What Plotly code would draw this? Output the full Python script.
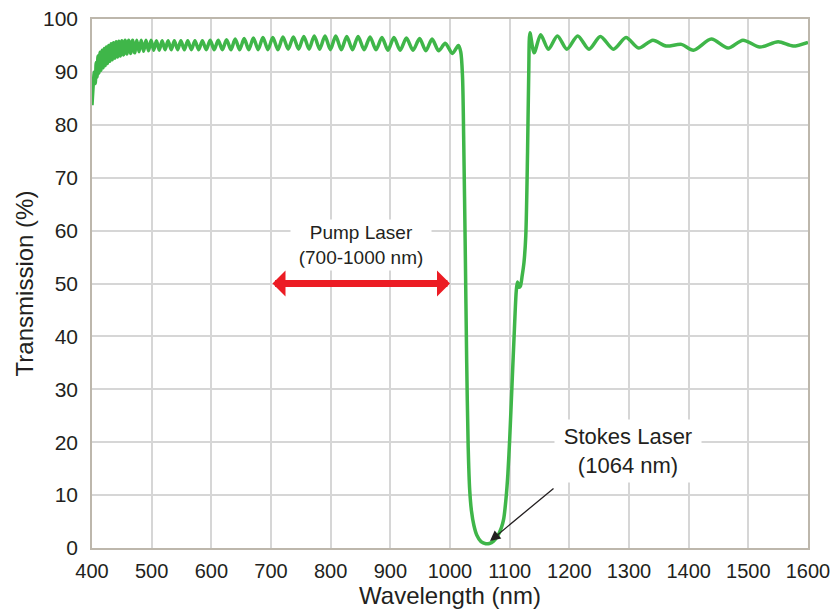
import plotly.graph_objects as go

# Transmission spectrum of the dichroic filter (fringe peaks/valleys traced per region)
wl_blue_edge = [400, 404, 405.5, 407, 408.5, 410, 411.8, 413.5, 415.2, 417, 418.8, 420.5, 422.2,
                424, 426, 428, 430, 432, 434, 436, 438.2, 440.5, 442.8, 445, 447.5, 450, 452.8,
                455.5, 458.5, 461.5, 464.8, 468, 471.5, 475, 478.8, 482.5, 486.5, 490.5, 494.8,
                499, 503.5, 508, 512.8, 517.5, 522.5, 527.5, 532.8, 538, 543.5, 549, 554.8,
                560.5, 566.5, 572.5, 578.8, 585, 591.5, 598, 604.8, 611.5, 618.5, 625.5, 632.8,
                640, 647.5, 655, 662.8, 670.5, 678.5, 686.5, 694.8, 703, 711.5, 720, 728.8,
                737.5, 746.2, 755, 763.8, 772.5, 781.5, 790.5, 799.5, 808.5, 817.8, 827, 836.5,
                846, 856, 866, 876, 886, 896, 906, 916.5, 927, 938, 949, 959.5, 970, 981, 992,
                1004, 1014]
t_blue_edge = [83.7, 90.0, 87.8, 91.8, 89.0, 93.0, 89.8, 93.7, 90.3, 94.1, 90.8, 94.4, 91.2,
               94.7, 91.6, 95.0, 92.0, 95.3, 92.3, 95.5, 92.6, 95.7, 92.8, 95.8, 93.0, 95.9, 93.2,
               96.0, 93.4, 96.0, 93.5, 96.0, 93.6, 96.0, 93.8, 96.0, 93.9, 96.0, 94.0,
               96.0, 94.1, 95.9, 94.1, 95.9, 94.2, 95.9, 94.2, 95.9, 94.2, 95.9, 94.2,
               95.9, 94.2, 95.9, 94.2, 95.9, 94.2, 96.0, 94.2, 96.0, 94.2, 96.1, 94.2,
               96.2, 94.2, 96.3, 94.2, 96.4, 94.2, 96.5, 94.2, 96.5, 94.2, 96.6, 94.3,
               96.6, 94.3, 96.7, 94.3, 96.8, 94.3, 96.8, 94.2, 96.8, 94.2, 96.7, 94.2,
               96.7, 94.2, 96.6, 94.2, 96.5, 94.1, 96.5, 94.1, 96.4, 94.1, 96.3, 94.0, 96.2, 94.0, 95.4,
               93.5, 95.0]

# Stop band around the 1064 nm Stokes line
wl_notch = [1018, 1021, 1023, 1025.5, 1028, 1030.5, 1033, 1036, 1040, 1045, 1052, 1060, 1066,
            1073, 1080, 1086, 1090, 1094, 1097, 1100, 1104, 1108, 1111, 1113, 1116, 1118, 1121,
            1124, 1127, 1130, 1132]
t_notch = [93.8, 89.0, 77.0, 57.0, 35.0, 19.0, 11.0, 7.0, 4.3, 2.4, 1.2, 0.8, 0.85,
           1.3, 2.3, 3.8, 5.5, 9.5, 14.0, 20.5, 31.0, 41.5, 48.5, 50.3, 49.3, 49.5, 51.5,
           54.0, 59.0, 75.0, 90.0]

# Red side of the spectrum
wl_red_edge = [1134, 1141, 1152, 1165, 1180, 1196, 1214, 1233, 1252, 1274, 1295, 1316, 1340,
               1362, 1388, 1408, 1438, 1466, 1491, 1519, 1550, 1575, 1600]
t_red_edge = [97.4, 93.6, 97.0, 94.3, 96.8, 94.3, 96.8, 94.3, 96.7, 94.3, 96.5, 94.5, 96.0,
              94.9, 95.2, 94.1, 96.2, 94.5, 96.0, 94.7, 95.7, 94.9, 95.6]

wavelength = wl_blue_edge + wl_notch + wl_red_edge
transmission = t_blue_edge + t_notch + t_red_edge

x_ticks = list(range(400, 1601, 100))
y_ticks = list(range(0, 101, 10))

pump_range = [700, 1000]
pump_label = "Pump Laser<br>(700-1000 nm)"
stokes_wl = 1064
stokes_label = "Stokes Laser<br>(1064 nm)"

TEXT = "#231f20"
GREEN = "#3fb649"
RED = "#ec1c24"
GRID = "#d6d6d6"
AXIS = "#bdb7ac"
SANS = "Liberation Sans, Arial, sans-serif"

fig = go.Figure()
fig.add_trace(go.Scatter(
    x=wavelength, y=transmission, mode="lines",
    line=dict(color=GREEN, width=3.5, shape="spline", smoothing=0.8),
    hoverinfo="skip", showlegend=False,
))

# Pump laser band: double-headed red arrow
fig.add_annotation(
    x=pump_range[1], y=50, ax=pump_range[0], ay=50, xref="x", yref="y", axref="x", ayref="y",
    text="", showarrow=True, arrowhead=1, startarrowhead=1, arrowside="end+start",
    arrowwidth=7, arrowsize=0.62, startarrowsize=0.62, arrowcolor=RED, standoff=0, startstandoff=0,
)
fig.add_annotation(
    x=sum(pump_range) / 2, y=57.2, xref="x", yref="y", text=pump_label, showarrow=False,
    font=dict(family=SANS, size=19, color=TEXT), bgcolor="white", borderpad=2, width=136,
)

# Stokes laser callout
fig.add_annotation(
    x=1298, y=18.3, xref="x", yref="y", text=stokes_label, showarrow=False,
    font=dict(family=SANS, size=22, color=TEXT), bgcolor="white", borderpad=4, width=138,
)
fig.add_annotation(
    x=stokes_wl + 3, y=1.3, ax=1176, ay=11.5, xref="x", yref="y", axref="x", ayref="y",
    text="", showarrow=True, arrowhead=2, arrowwidth=1.3, arrowsize=1.6,
    arrowcolor="#231f20", standoff=0,
)

fig.update_xaxes(
    range=[400, 1600], tickvals=x_ticks, ticktext=[str(v) for v in x_ticks],
    showgrid=True, gridcolor=GRID, gridwidth=1.5,
    showline=True, linecolor=AXIS, linewidth=1.5, mirror=True,
    ticks="", ticklabelstandoff=4, ticklabeloverflow="allow", zeroline=False,
    tickfont=dict(family=SANS, size=20, color=TEXT),
    title=dict(text="Wavelength (nm)", font=dict(family=SANS, size=24, color=TEXT), standoff=6),
)
fig.update_yaxes(
    range=[0, 100], tickvals=y_ticks,
    showgrid=True, gridcolor=GRID, gridwidth=1.5,
    showline=True, linecolor=AXIS, linewidth=1.5, mirror=True,
    ticks="", ticklabelstandoff=8, zeroline=False,
    tickfont=dict(family=SANS, size=21, color=TEXT),
    title=dict(text="Transmission (%)", font=dict(family=SANS, size=24, color=TEXT), standoff=3),
)
fig.update_layout(
    width=831, height=610,
    margin=dict(l=92, r=23, t=19, b=62, autoexpand=False),
    paper_bgcolor="white", plot_bgcolor="white",
)

fig.write_html("out.html")
